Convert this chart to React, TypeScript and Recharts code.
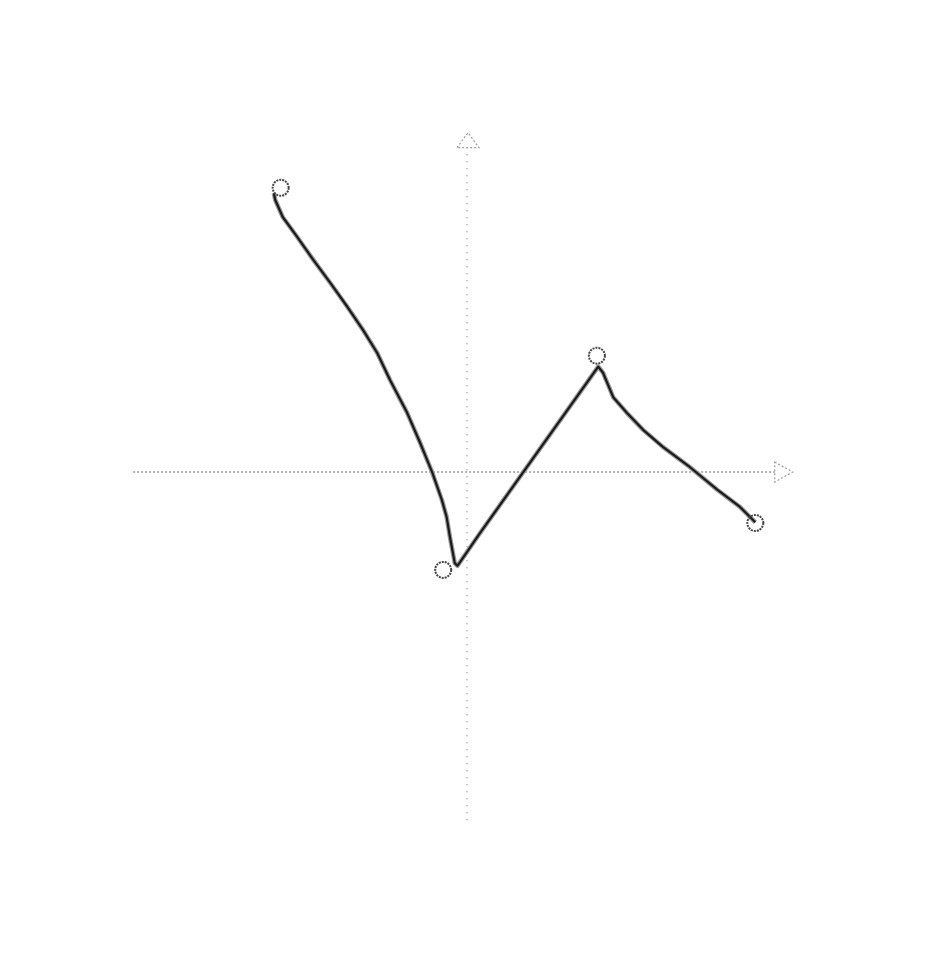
import { ComposedChart, Line, Scatter, XAxis, YAxis, ReferenceLine } from 'recharts';

// points
const curveX = [-2.84, -2.82, -2.71, -2.5, -2.26, -2.01, -1.76, -1.53, -1.32, -1.13, -0.88, -0.69, -0.51, -0.37, -0.3, -0.25, -0.18, -0.14, 0.19, 1.93, 2.0, 2.15, 2.35, 2.59, 2.88, 3.28, 3.68, 4.01, 4.24];
const curveY = [4.1, 4.0, 3.75, 3.46, 3.12, 2.78, 2.43, 2.09, 1.75, 1.35, 0.87, 0.43, -0.01, -0.41, -0.66, -0.96, -1.34, -1.38, -0.9, 1.55, 1.46, 1.1, 0.87, 0.62, 0.37, 0.07, -0.26, -0.51, -0.74];

// the circled points
const markerX = [-2.74, -0.35, 1.91, 4.24];
const markerY = [4.18, -1.44, 1.71, -0.75];

const curve = curveX.map((x, i) => ({ x, y: curveY[i] }));
const markers = markerX.map((x, i) => ({ x, y: markerY[i] }));

const axisColor = '#9a9a9a';

const HorizontalArrow = (props) => {
  const { x1, y1, x2, y2 } = props;
  return (
    <g>
      <line x1={x1} y1={y1} x2={x2 - 18} y2={y2} stroke={axisColor} strokeWidth={1.5} strokeDasharray="2 2" />
      <polygon points={`${x2 - 18},${y2 - 10} ${x2},${y2} ${x2 - 18},${y2 + 10}`} fill="none" stroke={axisColor} strokeWidth={1.2} strokeDasharray="2 2" />
    </g>
  );
};

const VerticalArrow = (props) => {
  const { x1, y1, x2, y2 } = props;
  const top = Math.min(y1, y2);
  const bottom = Math.max(y1, y2);
  return (
    <g>
      <line x1={x1} y1={bottom} x2={x2} y2={top + 15} stroke={axisColor} strokeWidth={1.5} strokeDasharray="1 6" />
      <polygon points={`${x1 - 10},${top + 15} ${x1 + 1},${top} ${x1 + 12},${top + 15}`} fill="none" stroke={axisColor} strokeWidth={1.2} strokeDasharray="2 2" />
    </g>
  );
};

const Ring = (props) => {
  const { cx, cy } = props;
  return <circle cx={cx} cy={cy} r={8} fill="none" stroke="#444" strokeWidth={2} strokeDasharray="2 1" />;
};

const App = () => {
  return (
    <ComposedChart width={920} height={940} margin={{ top: 90, right: 121, bottom: 102, left: 119 }}>
      <XAxis type="number" dataKey="x" domain={[-5, 5]} hide allowDataOverflow />
      <YAxis type="number" dataKey="y" domain={[-5.5, 5.5]} hide allowDataOverflow />
      <ReferenceLine segment={[{ x: -4.91, y: 0 }, { x: 4.79, y: 0 }]} shape={HorizontalArrow} />
      <ReferenceLine segment={[{ x: 0, y: -5.12 }, { x: 0, y: 4.99 }]} shape={VerticalArrow} />
      <Line data={curve} dataKey="y" type="linear" stroke="#9a9a9a" strokeWidth={4.5} strokeLinejoin="round" dot={false} isAnimationActive={false} />
      <Line data={curve} dataKey="y" type="linear" stroke="#1a1a1a" strokeWidth={2.2} strokeLinejoin="round" dot={false} isAnimationActive={false} />
      <Scatter data={markers} dataKey="y" shape={Ring} isAnimationActive={false} />
    </ComposedChart>
  );
};

export default App;
